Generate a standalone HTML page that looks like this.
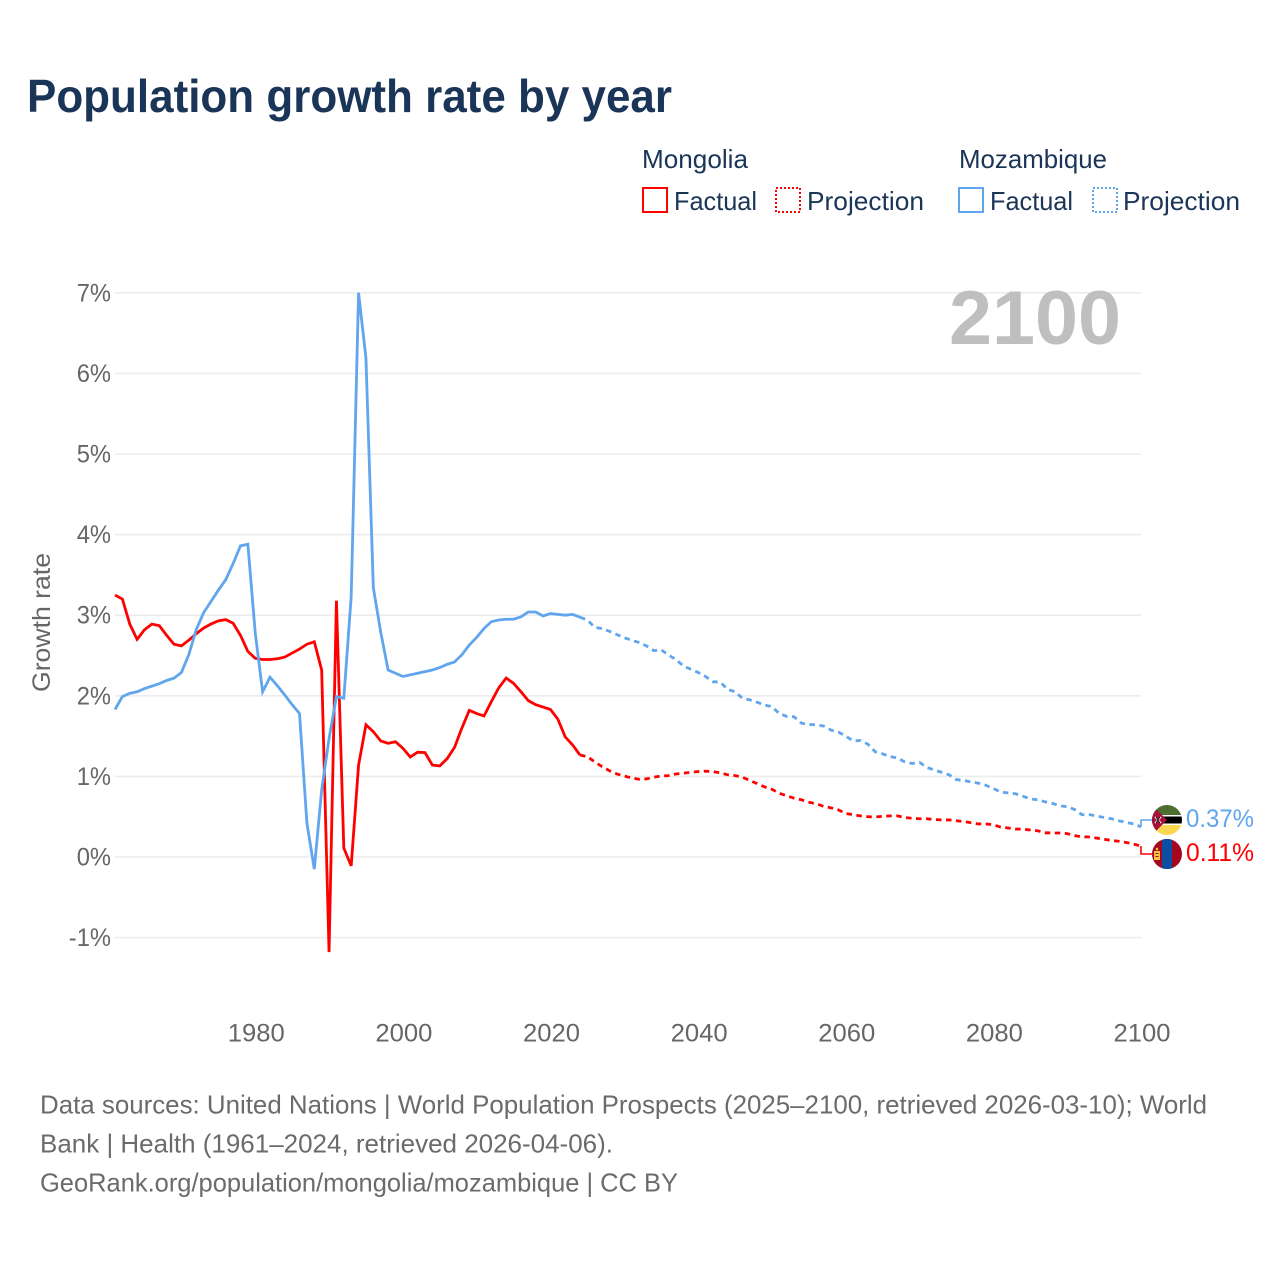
<!DOCTYPE html>
<html lang="en">
<head>
<meta charset="utf-8">
<title>Population growth rate by year</title>
<style>
html,body{margin:0;padding:0;background:#fff;width:1280px;height:1280px;overflow:hidden}
svg{display:block}
text{font-family:"Liberation Sans",sans-serif}
</style>
</head>
<body>
<svg id="chart" width="1280" height="1280" viewBox="0 0 1280 1280" xmlns="http://www.w3.org/2000/svg">
  <defs>
    <clipPath id="flag-clip-moz"><circle cx="1167" cy="820" r="15"/></clipPath>
    <clipPath id="flag-clip-mng"><circle cx="1167" cy="854" r="15"/></clipPath>
  </defs>
  <text x="27" y="112" font-size="46" font-weight="700" fill="#1a3557" textLength="645" lengthAdjust="spacingAndGlyphs">Population growth rate by year</text>

  <g fill="#1a3557" font-size="26">
    <text x="642" y="168" textLength="106" lengthAdjust="spacingAndGlyphs">Mongolia</text>
    <rect x="643" y="188" width="24" height="24" fill="none" stroke="#ff0000" stroke-width="2"/>
    <text x="674" y="210" textLength="83" lengthAdjust="spacingAndGlyphs">Factual</text>
    <rect x="776" y="188" width="24" height="24" fill="none" stroke="#ff0000" stroke-width="2" stroke-dasharray="2 2"/>
    <text x="807" y="210" textLength="117" lengthAdjust="spacingAndGlyphs">Projection</text>
    <text x="959" y="168" textLength="148" lengthAdjust="spacingAndGlyphs">Mozambique</text>
    <rect x="959" y="188" width="24" height="24" fill="none" stroke="#60a5ed" stroke-width="2"/>
    <text x="990" y="210" textLength="83" lengthAdjust="spacingAndGlyphs">Factual</text>
    <rect x="1093" y="188" width="24" height="24" fill="none" stroke="#60a5ed" stroke-width="2" stroke-dasharray="2 2"/>
    <text x="1123" y="210" textLength="117" lengthAdjust="spacingAndGlyphs">Projection</text>
  </g>

  <g id="grid"></g>
  <g id="y-ticks" font-size="25" fill="#666666"></g>
  <g id="x-ticks" font-size="25" fill="#666666"></g>
  <text transform="translate(50,622.500) rotate(-90)" text-anchor="middle" font-size="25" fill="#666666" textLength="139" lengthAdjust="spacingAndGlyphs">Growth rate</text>

  <text id="year-label" x="949" y="344" font-size="76" font-weight="700" fill="#bfbfbf" textLength="172" lengthAdjust="spacingAndGlyphs">2100</text>

  <g id="series"></g>

  <g clip-path="url(#flag-clip-moz)">
    <rect x="1152" y="805" width="30" height="10" fill="#4c6f2f"/>
    <rect x="1152" y="815" width="30" height="1.500" fill="#ffffff"/>
    <rect x="1152" y="816.500" width="30" height="7" fill="#000000"/>
    <rect x="1152" y="823.500" width="30" height="1.500" fill="#ffffff"/>
    <rect x="1152" y="825" width="30" height="10" fill="#fcd64f"/>
    <polygon points="1152,805 1167,820 1152,835" fill="#a6123a"/>
    <path d="M1155 817l6 6M1161 817l-6 6" stroke="#ffffff" stroke-width="1.500"/>
    <path d="M1156 817l4 6M1160 817l-4 6" stroke="#000000" stroke-width="0.800"/>
  </g>
  <g clip-path="url(#flag-clip-mng)">
    <rect x="1152" y="839" width="30" height="30" fill="#a4071f"/>
    <rect x="1162" y="839" width="10" height="30" fill="#0b4ea2"/>
    <rect x="1154" y="851" width="6" height="9" fill="#f6c63f"/>
    <rect x="1155.500" y="853" width="3" height="1" fill="#a4071f"/>
    <rect x="1155.500" y="856" width="3" height="1" fill="#a4071f"/>
    <circle cx="1157" cy="849" r="1.300" fill="#f6c63f"/>
  </g>

  <text id="end-label-moz" x="1186" y="827" font-size="25" fill="#60a5ed" textLength="68" lengthAdjust="spacingAndGlyphs"></text>
  <text id="end-label-mng" x="1186" y="861" font-size="25" fill="#ff0000" textLength="68" lengthAdjust="spacingAndGlyphs"></text>

  <g font-size="26" fill="#6b6b6b">
    <text x="40" y="1113.500" textLength="1167" lengthAdjust="spacingAndGlyphs">Data sources: United Nations | World Population Prospects (2025–2100, retrieved 2026-03-10); World</text>
    <text x="40" y="1152.500" textLength="573" lengthAdjust="spacingAndGlyphs">Bank | Health (1961–2024, retrieved 2026-04-06).</text>
    <text x="40" y="1191.500" textLength="638" lengthAdjust="spacingAndGlyphs">GeoRank.org/population/mongolia/mozambique | CC BY</text>
  </g>
</svg>
<script>
// Chart data
const firstFactualYear = 1961;
const firstProjectionYear = 2025;
const yTickValues = [-1, 0, 1, 2, 3, 4, 5, 6, 7];
const yTickLabels = ['-1%', '0%', '1%', '2%', '3%', '4%', '5%', '6%', '7%'];
const xTickValues = [1980, 2000, 2020, 2040, 2060, 2080, 2100];
const xTickLabels = ['1980', '2000', '2020', '2040', '2060', '2080', '2100'];
const endLabels = ['0.37%', '0.11%'];

const mongoliaFactual = [
  3.25, 3.20, 2.89, 2.70, 2.82, 2.89, 2.87, 2.75, 2.64, 2.62,
  2.69, 2.77, 2.84, 2.89, 2.93, 2.945, 2.90, 2.75, 2.55, 2.465,
  2.45, 2.45, 2.46, 2.48, 2.53, 2.58, 2.64, 2.67, 2.32, -1.18,
  3.18, 0.11, -0.11, 1.14, 1.64, 1.555, 1.44, 1.41, 1.43, 1.35,
  1.24, 1.30, 1.295, 1.14, 1.13, 1.22, 1.36, 1.60, 1.82, 1.78,
  1.75, 1.93, 2.10, 2.22, 2.155, 2.05, 1.94, 1.89, 1.86, 1.83,
  1.71, 1.49, 1.39, 1.265
];
const mongoliaProjection = [
  1.245, 1.18, 1.12, 1.07, 1.03, 1.005, 0.98, 0.965, 0.97, 0.99,
  1.005, 1.01, 1.03, 1.04, 1.05, 1.06, 1.065, 1.06, 1.045, 1.02,
  1.01, 0.99, 0.95, 0.91, 0.87, 0.84, 0.79, 0.76, 0.73, 0.71,
  0.68, 0.66, 0.63, 0.61, 0.585, 0.54, 0.525, 0.51, 0.50, 0.496,
  0.505, 0.51, 0.51, 0.49, 0.48, 0.475, 0.475, 0.465, 0.46, 0.46,
  0.45, 0.44, 0.425, 0.41, 0.41, 0.40, 0.37, 0.36, 0.347, 0.345,
  0.335, 0.325, 0.30, 0.298, 0.298, 0.29, 0.265, 0.25, 0.248, 0.235,
  0.22, 0.205, 0.195, 0.18, 0.16, 0.136
];
const mozambiqueFactual = [
  1.83, 1.99, 2.03, 2.05, 2.09, 2.12, 2.15, 2.19, 2.22, 2.29,
  2.51, 2.82, 3.03, 3.17, 3.31, 3.44, 3.64, 3.86, 3.88, 2.78,
  2.05, 2.23, 2.125, 2.01, 1.89, 1.78, 0.42, -0.15, 0.83, 1.47,
  1.99, 1.97, 3.23, 7.00, 6.19, 3.34, 2.79, 2.32, 2.28, 2.24,
  2.26, 2.28, 2.30, 2.32, 2.35, 2.39, 2.42, 2.51, 2.63, 2.725,
  2.835, 2.92, 2.94, 2.95, 2.95, 2.98, 3.04, 3.04, 2.99, 3.02,
  3.01, 3.00, 3.01, 2.975
];
const mozambiqueProjection = [
  2.94, 2.85, 2.835, 2.80, 2.76, 2.72, 2.69, 2.66, 2.62, 2.56,
  2.57, 2.505, 2.45, 2.37, 2.33, 2.29, 2.24, 2.175, 2.17, 2.08,
  2.05, 1.97, 1.95, 1.92, 1.885, 1.865, 1.78, 1.745, 1.74, 1.66,
  1.645, 1.64, 1.625, 1.575, 1.55, 1.50, 1.44, 1.445, 1.40, 1.305,
  1.28, 1.245, 1.23, 1.18, 1.16, 1.175, 1.11, 1.08, 1.05, 1.02,
  0.96, 0.95, 0.93, 0.915, 0.89, 0.85, 0.805, 0.795, 0.785, 0.755,
  0.72, 0.71, 0.685, 0.665, 0.635, 0.625, 0.59, 0.525, 0.525, 0.51,
  0.49, 0.475, 0.45, 0.43, 0.41, 0.375
];

// Scales
function xScale(year) { return 115 + (year - 1961) * 7.381; }
function yScale(value) { return 857 - value * 80.6; }

const NS = 'http://www.w3.org/2000/svg';
const gridGroup = document.getElementById('grid');
const yTickGroup = document.getElementById('y-ticks');
const xTickGroup = document.getElementById('x-ticks');
const seriesGroup = document.getElementById('series');

yTickValues.forEach(function (v, i) {
  const line = document.createElementNS(NS, 'line');
  
  
  line.setAttribute('x1', xScale(firstFactualYear));
  line.setAttribute('x2', xScale(2100));
  line.setAttribute('y1', yScale(v));
  line.setAttribute('y2', yScale(v));
  line.setAttribute('stroke', '#ececec');
  line.setAttribute('stroke-width', '1.6');
  gridGroup.appendChild(line);

  const label = document.createElementNS(NS, 'text');
  
  
  label.setAttribute('x', 111);
  label.setAttribute('y', yScale(v) + 8.5);
  label.setAttribute('text-anchor', 'end');
  label.textContent = yTickLabels[i];
  yTickGroup.appendChild(label);
  label.setAttribute('lengthAdjust', 'spacingAndGlyphs');
  label.setAttribute('textLength', (label.getComputedTextLength() * 0.95).toFixed(1));
});

xTickValues.forEach(function (v, i) {
  const label = document.createElementNS(NS, 'text');
  
  
  label.setAttribute('x', xScale(v) + 1);
  label.setAttribute('y', 1041.5);
  label.setAttribute('text-anchor', 'middle');
  label.setAttribute('textLength', '57');
  label.setAttribute('lengthAdjust', 'spacingAndGlyphs');
  label.textContent = xTickLabels[i];
  xTickGroup.appendChild(label);
});

function pathFrom(values, startYear, prefix) {
  let d = prefix || '';
  values.forEach(function (v, i) {
    d += (d ? 'L' : 'M') + xScale(startYear + i).toFixed(2) + ' ' + yScale(v).toFixed(2);
  });
  return d;
}

function lastPoint(values) { return values[values.length - 1]; }

// Mongolia
const mngFactualPath = document.createElementNS(NS, 'path');


mngFactualPath.setAttribute('d', pathFrom(mongoliaFactual, firstFactualYear));
mngFactualPath.setAttribute('fill', 'none');
mngFactualPath.setAttribute('stroke', '#ff0000');
mngFactualPath.setAttribute('stroke-width', '2.8');
mngFactualPath.setAttribute('stroke-linejoin', 'miter');
seriesGroup.appendChild(mngFactualPath);

const mngProjectionPath = document.createElementNS(NS, 'path');


mngProjectionPath.setAttribute('d', pathFrom([lastPoint(mongoliaFactual)].concat(mongoliaProjection), firstProjectionYear - 1));
mngProjectionPath.setAttribute('fill', 'none');
mngProjectionPath.setAttribute('stroke', '#ff0000');
mngProjectionPath.setAttribute('stroke-width', '2.8');
mngProjectionPath.setAttribute('stroke-dasharray', '5.5 4.5');
seriesGroup.appendChild(mngProjectionPath);

// Mozambique
const mozFactualPath = document.createElementNS(NS, 'path');


mozFactualPath.setAttribute('d', pathFrom(mozambiqueFactual, firstFactualYear));
mozFactualPath.setAttribute('fill', 'none');
mozFactualPath.setAttribute('stroke', '#60a5ed');
mozFactualPath.setAttribute('stroke-width', '2.8');
seriesGroup.appendChild(mozFactualPath);

const mozProjectionPath = document.createElementNS(NS, 'path');


mozProjectionPath.setAttribute('d', pathFrom([lastPoint(mozambiqueFactual)].concat(mozambiqueProjection), firstProjectionYear - 1));
mozProjectionPath.setAttribute('fill', 'none');
mozProjectionPath.setAttribute('stroke', '#60a5ed');
mozProjectionPath.setAttribute('stroke-width', '2.8');
mozProjectionPath.setAttribute('stroke-dasharray', '5.5 4.5');
seriesGroup.appendChild(mozProjectionPath);

// Connectors from the last projected value to each end flag
const mngConnector = document.createElementNS(NS, 'path');


mngConnector.setAttribute('d', 'M' + xScale(2100).toFixed(2) + ' ' + yScale(lastPoint(mongoliaProjection)).toFixed(2) + 'V854H1152');
mngConnector.setAttribute('fill', 'none');
mngConnector.setAttribute('stroke', '#ff0000');
mngConnector.setAttribute('stroke-width', '1.6');
seriesGroup.appendChild(mngConnector);

const mozConnector = document.createElementNS(NS, 'path');


mozConnector.setAttribute('d', 'M' + xScale(2100).toFixed(2) + ' ' + yScale(lastPoint(mozambiqueProjection)).toFixed(2) + 'V820H1152');
mozConnector.setAttribute('fill', 'none');
mozConnector.setAttribute('stroke', '#60a5ed');
mozConnector.setAttribute('stroke-width', '1.6');
seriesGroup.appendChild(mozConnector);

document.getElementById('end-label-moz').textContent = endLabels[0];
document.getElementById('end-label-mng').textContent = endLabels[1];
</script>
</body>
</html>
